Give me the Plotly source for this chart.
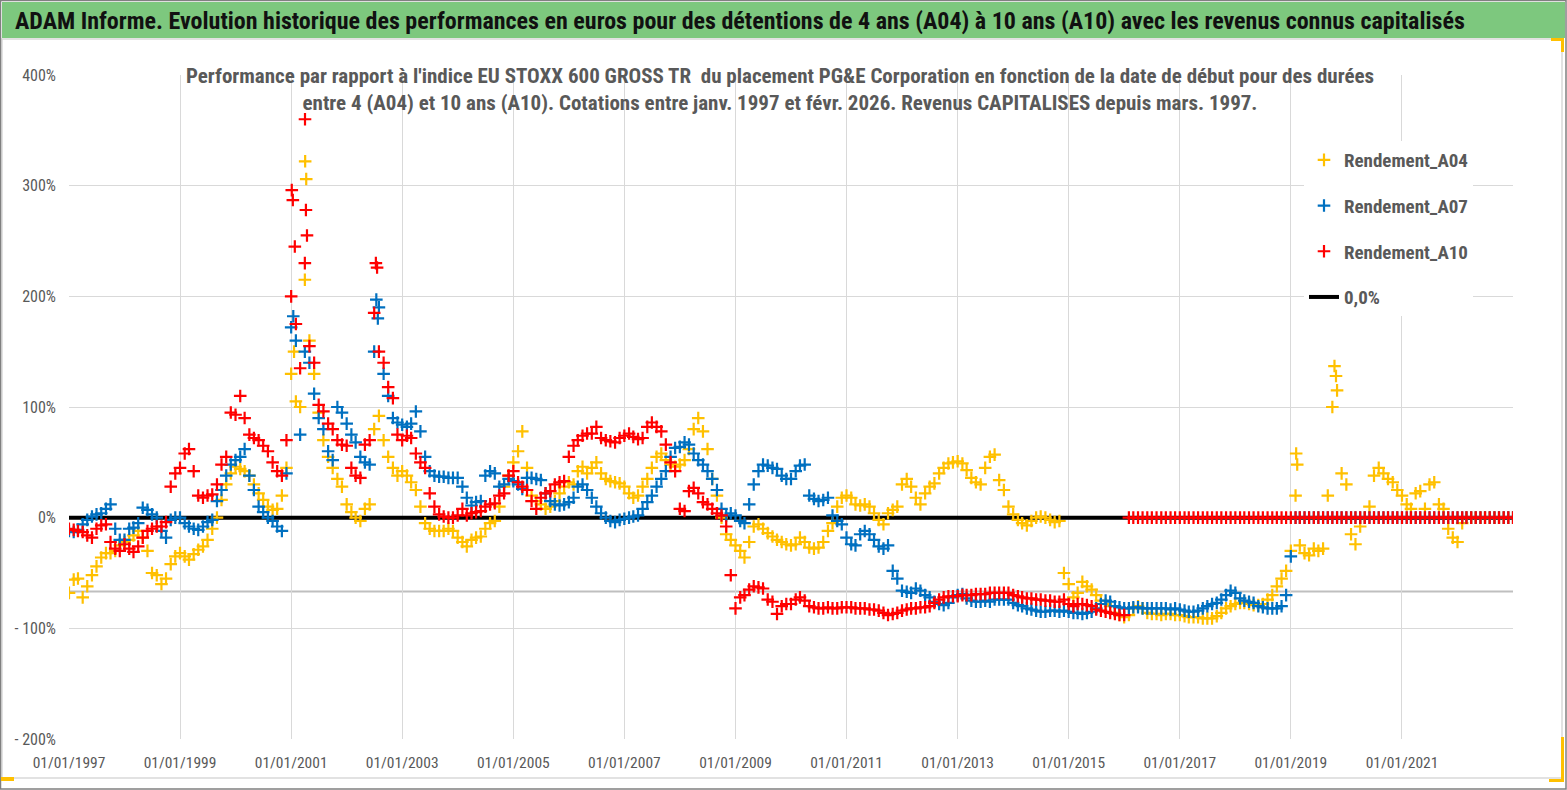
import pandas as pd
import plotly.graph_objects as go

START = "1997-01-01"

# Monthly readings (Jan 1997 .. Jan 2023), in %
A04 = [
    -68, -56, -55, -72, -62, -52, -44, -36, -32, -32, -30, -25,   # 1997
    -22, -20, -16, -12, -18, -30, -50, -52, -60, -55, -42, -35,   # 1998
    -32, -35, -38, -33, -29, -26, -20, -10, 0, 16, 30, 40,        # 1999
    46, 44, 42, 38, 30, 22, 16, 10, 7, 8, 20, 45,                 # 2000
    130, 105, 100, 215, 160, 130, 95, 70, 55, 45, 35, 28,         # 2001
    12, 5, 0, -3, 8, 12, 80, 92, 70, 55, 45, 38,                  # 2002
    42, 38, 32, 25, 10, -5, -10, -12, -12, -12, -10, -12,         # 2003
    -18, -22, -26, -20, -18, -17, -10, -5, -3, 10, 28, 38,        # 2004
    50, 60, 78, 45, 20, 15, 12, 8, 10, 15, 22, 28,                # 2005
    32, 30, 42, 46, 40, 45, 50, 40, 35, 33, 32, 31,               # 2006
    28, 22, 18, 20, 28, 35, 45, 55, 58, 52, 48, 46,               # 2007
    48, 52, 62, 80, 90, 78, 62, 35, 20, 0, -15, -20,              # 2008
    -25, -30, -36, -22, -8, -6, -10, -14, -17, -20, -22, -24,     # 2009
    -25, -24, -18, -22, -27, -28, -27, -22, -12, -5, 10, 18,      # 2010
    20, 18, 12, 11, 12, 10, 4, -2, -6, 4, 7, 10,                  # 2011
    30, 35, 28, 18, 12, 22, 28, 31, 40, 45, 49, 50,               # 2012
    51, 49, 43, 36, 32, 30, 45, 55, 57, 34, 25, 10,               # 2013
    3, -2, -5, -7, -3, 0, 1, 0, -2, -4, -3, -50,                  # 2014
    -60, -72, -68, -58, -62, -65, -70, -75, -78, -80, -86, -88,   # 2015
    -90, -88, -82, -80, -82, -86, -87, -87, -88, -87, -87, -88,   # 2016
    -88, -89, -90, -90, -90, -91, -91, -91, -89, -86, -82, -80,   # 2017
    -78, -77, -77, -78, -79, -79, -78, -74, -70, -62, -55, -48,   # 2018
    -30, 20, -25, -32, -34, -28, -30, -28, 20, 100, 115, 40,      # 2019
    30, -15, -24, -8, 0, 10, 38, 45, 40, 35, 32, 25,              # 2020
    20, 12, 8, 22, 24, 8, 30, 32, 12, 8, -10, -18,                # 2021
    -22, -5, 0, 0, 0, 0, 0, 0, 0, 0, 0, 0,                        # 2022
    0,                                                            # 2023
]

A07 = [
    -12, -13, -11, -6, -2, 1, 3, 4, 8, 12, -10, -20,              # 1997
    -20, -10, -9, -5, 9, 7, 3, 0, -12, -18, -2, 0,                # 1998
    0, -5, -8, -10, -11, -8, -4, -2, 15, 25, 38, 48,              # 1999
    52, 55, 62, 38, 25, 10, 5, 0, -3, -8, -12, 40,                # 2000
    172, 160, 75, 150, 140, 112, 90, 80, 60, 52, 100, 95,         # 2001
    85, 75, 68, 55, 50, 48, 150, 190, 130, 110, 90, 86,           # 2002
    84, 82, 85, 96, 78, 55, 42, 38, 37, 37, 36, 36,               # 2003
    36, 28, 18, 11, 14, 15, 38, 42, 40, 28, 30, 35,               # 2004
    33, 30, 26, 36, 36, 35, 34, 22, 15, 12, 11, 12,               # 2005
    14, 18, 28, 30, 25, 18, 10, 4, 0, -3, -4, -2,                 # 2006
    -1, 0, 1, 2, 8, 14, 20, 28, 35, 42, 55, 63,                   # 2007
    64, 68, 66, 58, 52, 48, 42, 35, 25, 8, 2, 4,                  # 2008
    2, -3, -5, 12, 30, 42, 48, 47, 45, 44, 38, 35,                # 2009
    35, 42, 47, 48, 20, 17, 15, 16, 18, 2, -3, -6,                # 2010
    -18, -24, -25, -15, -12, -15, -20, -26, -28, -25, -48, -55,   # 2011
    -66, -67, -68, -64, -66, -70, -72, -76, -78, -79, -77, -72,   # 2012
    -70, -69, -73, -75, -76, -76, -75, -76, -74, -74, -74, -74,   # 2013
    -77, -79, -80, -82, -83, -84, -85, -85, -84, -84, -85, -84,   # 2014
    -85, -86, -86, -87, -86, -85, -82, -78, -75, -76, -80, -81,   # 2015
    -82, -82, -81, -81, -82, -82, -82, -82, -82, -82, -83, -82,   # 2016
    -83, -84, -85, -85, -84, -82, -80, -78, -77, -74, -70, -66,   # 2017
    -68, -73, -75, -76, -77, -80, -81, -82, -82, -82, -80, -70,   # 2018
    -35, 0, 0, 0, 0, 0, 0, 0, 0, 0, 0, 0,                         # 2019
    0, 0, 0, 0, 0, 0, 0, 0, 0, 0, 0, 0,                           # 2020
    0, 0, 0, 0, 0, 0, 0, 0, 0, 0, 0, 0,                           # 2021
    0, 0, 0, 0, 0, 0, 0, 0, 0, 0, 0, 0,                           # 2022
    0,                                                            # 2023
]

A10 = [
    -10, -11, -12, -13, -16, -18, -10, -7, -6, -22, -28, -30,     # 1997
    -24, -28, -31, -26, -18, -12, -10, -8, -8, -4, 28, 40,        # 1998
    45, 58, 62, 42, 20, 18, 20, 21, 30, 48, 55, 95,               # 1999
    93, 110, 90, 75, 72, 70, 65, 60, 50, 42, 38, 70,              # 2000
    200, 175, 135, 230, 155, 140, 102, 96, 85, 80, 70, 66,        # 2001
    65, 45, 38, 36, 66, 70, 185, 150, 140, 118, 108, 75,          # 2002
    70, 74, 72, 58, 50, 45, 22, 10, 3, 1, 0, 0,                   # 2003
    2, 8, 2, 4, 5, 6, 10, 12, 13, 20, 22, 38,                     # 2004
    42, 32, 28, 25, 15, 8, 18, 22, 24, 30, 32, 33,                # 2005
    55, 65, 70, 74, 76, 76, 82, 72, 70, 69, 68, 72,               # 2006
    74, 76, 73, 71, 72, 82, 86, 82, 78, 66, 50, 42,               # 2007
    8, 6, 24, 27, 22, 14, 12, 8, 4, 2, -8, -52,                   # 2008
    -82, -72, -70, -65, -62, -63, -64, -74, -76, -87, -80, -78,   # 2009
    -78, -74, -72, -75, -80, -81, -82, -82, -81, -82, -82, -81,   # 2010
    -81, -81, -82, -82, -82, -83, -83, -84, -86, -88, -87, -86,   # 2011
    -84, -83, -82, -82, -81, -81, -80, -77, -74, -72, -71, -71,   # 2012
    -71, -70, -70, -70, -69, -69, -69, -68, -68, -68, -68, -68,   # 2013
    -70, -71, -72, -73, -73, -74, -74, -75, -75, -76, -76, -74,   # 2014
    -78, -80, -78, -78, -79, -80, -83, -84, -85, -86, -87, -88,   # 2015
    -88, 0, 0, 0, 0, 0, 0, 0, 0, 0, 0, 0,                         # 2016
    0, 0, 0, 0, 0, 0, 0, 0, 0, 0, 0, 0,                           # 2017
    0, 0, 0, 0, 0, 0, 0, 0, 0, 0, 0, 0,                           # 2018
    0, 0, 0, 0, 0, 0, 0, 0, 0, 0, 0, 0,                           # 2019
    0, 0, 0, 0, 0, 0, 0, 0, 0, 0, 0, 0,                           # 2020
    0, 0, 0, 0, 0, 0, 0, 0, 0, 0, 0, 0,                           # 2021
    0, 0, 0, 0, 0, 0, 0, 0, 0, 0, 0, 0,                           # 2022
    0,                                                            # 2023
]

# isolated spikes
A04_EXTRA_DATES = ["2001-01-20", "2001-04-03", "2001-04-10", "2019-02-05", "2019-02-12", "2019-10-15", "2019-10-25"]
A04_EXTRA = [150, 322, 306, 58, 48, 137, 128]
A07_EXTRA_DATES = ["2001-01-15", "2002-07-15", "2002-07-25"]
A07_EXTRA = [182, 197, 180]
A10_EXTRA_DATES = ["2001-01-05", "2001-01-12", "2001-01-25", "2001-04-02", "2001-04-08", "2001-04-15", "2002-07-12", "2002-07-20"]
A10_EXTRA = [296, 287, 245, 360, 278, 255, 230, 226]

ZERO_DATES = ["1997-01-01", "2023-01-01"]
ZERO_VALUES = [0, 0]
REF_LEVEL = -66.7

X_RANGE = ["1997-01-01", "2023-01-01"]
TICK_YEARS = [1997, 1999, 2001, 2003, 2005, 2007, 2009, 2011, 2013, 2015, 2017, 2019, 2021]
Y_TICKS = [-200, -100, 0, 100, 200, 300, 400]
Y_TICK_TEXT = ["- 200%", "- 100%", "0%", "100%", "200%", "300%", "400%"]

TITLE = ("ADAM Informe. Evolution historique des performances en euros pour des détentions "
         "de 4 ans (A04) à 10 ans (A10) avec les revenus connus capitalisés")
SUBTITLE = ("Performance par rapport à l'indice EU STOXX 600 GROSS TR  du placement PG&E Corporation "
            "en fonction de la date de début pour des durées<br>entre 4 (A04) et 10 ans (A10). "
            "Cotations entre janv. 1997 et févr. 2026. Revenus CAPITALISES depuis mars. 1997.")

FONT = "Liberation Sans Narrow, Arial Narrow, Roboto Condensed, Liberation Sans, sans-serif"
GOLD, BLUE, RED = "#FFC000", "#0070C0", "#FF0000"

W, H = 1567, 790
L, R, T, B = 69, 54, 75, 51
PW, PH = W - L - R, H - T - B


def px(x):
    return (x - L) / PW


def py(y):
    return (H - B - y) / PH


dates = list(pd.date_range(START, periods=len(A04), freq="MS"))

fig = go.Figure()

fig.add_trace(go.Scatter(
    x=ZERO_DATES, y=ZERO_VALUES, mode="lines", name="0,0%",
    line=dict(color="black", width=4), legendrank=4, legendgroup="z",
    hoverinfo="skip"))


def series(name, vals, ex_d, ex_v, color, rank):
    fig.add_trace(go.Scatter(
        x=dates + list(pd.to_datetime(ex_d)), y=vals + ex_v, mode="markers", name=name,
        marker=dict(symbol="cross-thin", size=9, line=dict(color=color, width=2.2)),
        legendrank=rank, legendgroup=name))


series("Rendement_A04", A04, A04_EXTRA_DATES, A04_EXTRA, GOLD, 1)
series("Rendement_A07", A07, A07_EXTRA_DATES, A07_EXTRA, BLUE, 2)
series("Rendement_A10", A10, A10_EXTRA_DATES, A10_EXTRA, RED, 3)

shapes = [
    # reference level line
    dict(type="line", xref="paper", yref="y", x0=0, x1=1, y0=REF_LEVEL, y1=REF_LEVEL,
         line=dict(color="#BFBFBF", width=2), layer="between"),
    # white box behind the subtitle
    dict(type="rect", xref="paper", yref="paper", x0=px(180), x1=px(1382), y0=py(120), y1=py(55),
         fillcolor="white", line=dict(width=0), layer="between"),
    # green title bar
    dict(type="rect", xref="paper", yref="paper", x0=px(2), x1=px(1565), y0=py(38), y1=py(2),
         fillcolor="#7DC87E", line=dict(width=0), layer="above"),
    # chart frame
    dict(type="rect", xref="paper", yref="paper", x0=px(2), x1=px(1562), y0=py(778), y1=py(39),
         line=dict(color="#D9D9D9", width=1.5), layer="below"),
    # outer border
    dict(type="rect", xref="paper", yref="paper", x0=px(0.5), x1=px(1566), y0=py(789), y1=py(0.5),
         line=dict(color="#808080", width=1.5), layer="above"),
    # yellow corner marks
    dict(type="rect", xref="paper", yref="paper", x0=px(1551), x1=px(1564), y0=py(41), y1=py(38),
         fillcolor=GOLD, line=dict(width=0), layer="above"),
    dict(type="rect", xref="paper", yref="paper", x0=px(1561), x1=px(1564), y0=py(52), y1=py(38),
         fillcolor=GOLD, line=dict(width=0), layer="above"),
    dict(type="rect", xref="paper", yref="paper", x0=px(1561), x1=px(1564), y0=py(782), y1=py(737),
         fillcolor=GOLD, line=dict(width=0), layer="above"),
    dict(type="rect", xref="paper", yref="paper", x0=px(1549), x1=px(1564), y0=py(782), y1=py(779),
         fillcolor=GOLD, line=dict(width=0), layer="above"),
    dict(type="rect", xref="paper", yref="paper", x0=px(1), x1=px(14), y0=py(781), y1=py(777),
         fillcolor=GOLD, line=dict(width=0), layer="above"),
]

annotations = [
    dict(text=TITLE, xref="paper", yref="paper", x=px(740), y=py(21), xanchor="center",
         yanchor="middle", showarrow=False,
         font=dict(family=FONT, size=24, color="#111111", weight="bold")),
    dict(text=SUBTITLE, xref="paper", yref="paper", x=px(780), y=py(89), xanchor="center",
         yanchor="middle", showarrow=False, align="center",
         font=dict(family=FONT, size=21, color="#595959", weight="bold")),
]

fig.update_layout(
    width=W, height=H,
    margin=dict(l=L, r=R, t=T, b=B, autoexpand=False),
    paper_bgcolor="white", plot_bgcolor="white",
    font=dict(family=FONT, color="#595959", size=15),
    showlegend=True,
    legend=dict(x=px(1304), y=py(141), xanchor="left", yanchor="top",
                bgcolor="white", borderwidth=0, tracegroupgap=18,
                font=dict(family=FONT, size=19, color="#595959", weight="bold"),
                itemwidth=30),
    shapes=shapes, annotations=annotations,
    xaxis=dict(type="date", range=X_RANGE,
               tickvals=[f"{y}-01-01" for y in TICK_YEARS],
               ticktext=[f"01/01/{y}" for y in TICK_YEARS],
               showgrid=True, gridcolor="#D9D9D9", gridwidth=1.2,
               zeroline=False, showline=False, ticks="", ticklabelstandoff=12,
               tickfont=dict(family=FONT, size=15.5, color="#595959")),
    yaxis=dict(range=[-200, 400], tickvals=Y_TICKS, ticktext=Y_TICK_TEXT,
               showgrid=True, gridcolor="#D9D9D9", gridwidth=1.2,
               zeroline=False, showline=False, ticks="", ticklabelstandoff=12,
               tickfont=dict(family=FONT, size=16, color="#595959")),
    hovermode=False,
)

fig.write_html("out.html", config={"displayModeBar": False})

# remove the default page margin so the figure sits at the window origin
with open("out.html", "r", encoding="utf-8") as f:
    html = f.read()
html = html.replace("<head>", "<head><style>html,body{margin:0;padding:0;overflow:hidden;}</style>", 1)
with open("out.html", "w", encoding="utf-8") as f:
    f.write(html)
